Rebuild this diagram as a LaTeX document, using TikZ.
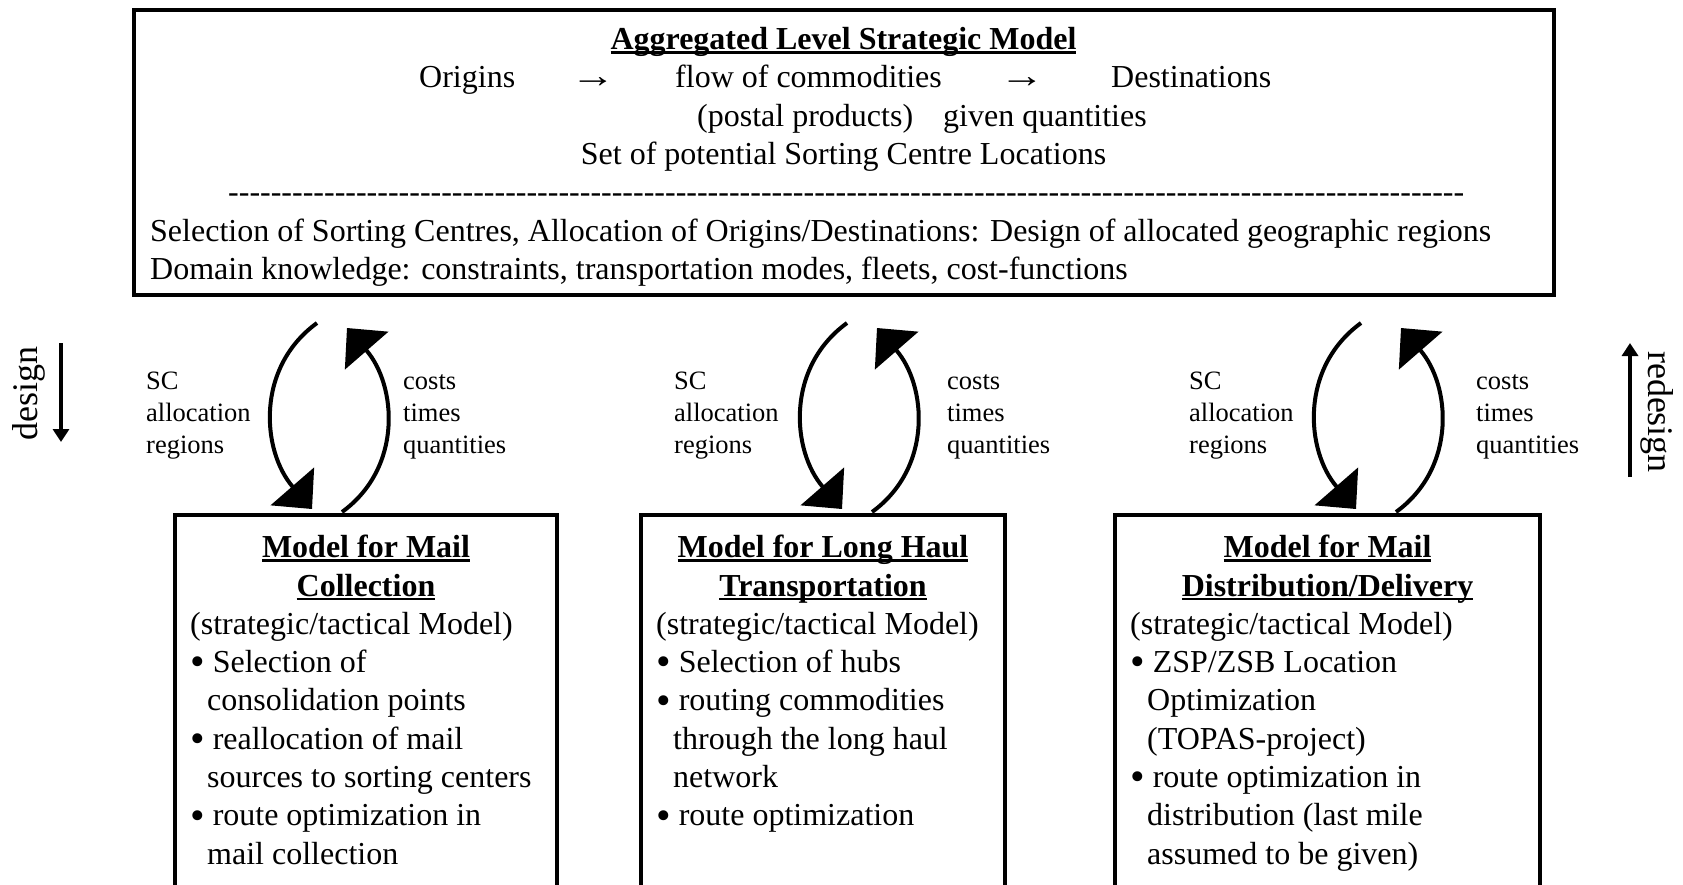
\documentclass[tikz,border=0pt]{standalone}
\usepackage{fontspec}
\usepackage{graphicx}
\setmainfont{Liberation Serif}
\usetikzlibrary{arrows.meta}

% underline drawn just below the baseline, crossing descenders
\newcommand\headline[1]{\setbox0\hbox{#1}\rlap{\rule[-4.2pt]{\wd0}{2.4pt}}\box0}
% a row of single hyphens (kerns keep them from joining into dashes)
\newcommand\hyphenrow{\foreach \k in {1,...,116}{-\kern0pt}}
% list bullet, a little heavier than the text one
\newcommand\itemdot{\raisebox{-3.3pt}{\scalebox{1.3}{\textbullet}}\ }
% wide flow arrow
\newcommand\flowarrow{\scalebox{1.4}[1.1]{→}}

\tikzset{
  frame/.style={draw, line width=4pt, inner sep=0pt, outer sep=0pt, anchor=north west},
  body/.style={inner sep=0pt, font=\fontsize{32}{38.3}\selectfont, anchor=base west},
  bodyc/.style={body, anchor=base},
  head/.style={inner sep=0pt, font=\fontsize{32}{38.3}\selectfont\bfseries, anchor=base},
  tag/.style={inner sep=0pt, font=\fontsize{26.5}{31.8}\selectfont, anchor=base west},
  side/.style={inner sep=0pt, font=\fontsize{36}{40}\selectfont},
  loop/.style={line width=4pt, -{Triangle[length=30pt,width=57pt]}},
  sidearrow/.style={line width=3.3pt, -{Triangle[length=13pt,width=16pt]}},
}

\begin{document}
\begin{tikzpicture}[x=1pt,y=1pt]
\useasboundingbox (0,0) rectangle (1683,-884);
\clip (0,0) rectangle (1683,-884);

% ---------- strategic model ----------
\node[frame, minimum width=1420pt, minimum height=285pt] (top) at (134,-10) {};
\node[head] (topT) at (843.5,-49.5) {\headline{Aggregated Level Strategic Model}};
\node[body] (orig) at (419,-87.8) {Origins};
\node[bodyc] (ar1) at (593,-87.8) {\flowarrow};
\node[body] (flow) at (675,-87.8) {flow of commodities};
\node[bodyc] (ar2) at (1022,-87.8) {\flowarrow};
\node[body] (dest) at (1111,-87.8) {Destinations};
\node[body] (post) at (697,-126.1) {(postal products)};
\node[body] (given) at (943,-126.1) {given quantities};
\node[bodyc] (set) at (843.5,-164.4) {Set of potential Sorting Centre Locations};
\node[body] (rule) at (228,-202.7) {\hyphenrow};
\node[body] (sel) at (150,-241) {Selection of Sorting Centres, Allocation of Origins/Destinations: Design of allocated geographic regions};
\node[body] (dom) at (150,-279.3) {Domain knowledge: constraints, transportation modes, fleets, cost-functions};

% ---------- mail collection ----------
\node[frame, minimum width=382pt, minimum height=420pt] (mc) at (175,-515) {};
\node[head] (mcT1) at (366,-557.5) {\headline{Model for Mail}};
\node[head] (mcT2) at (366,-596) {\headline{Collection}};
\node[body] (mc1) at (190,-634.3) {(strategic/tactical Model)};
\node[body] (mc2) at (190,-672.6) {\itemdot Selection of};
\node[body] (mc3) at (207,-710.9) {consolidation points};
\node[body] (mc4) at (190,-749.2) {\itemdot reallocation of mail};
\node[body] (mc5) at (207,-787.5) {sources to sorting centers};
\node[body] (mc6) at (190,-825.8) {\itemdot route optimization in};
\node[body] (mc7) at (207,-864.1) {mail collection};

% ---------- long haul ----------
\node[frame, minimum width=364pt, minimum height=420pt] (lh) at (641,-515) {};
\node[head] (lhT1) at (823,-557.5) {\headline{Model for Long Haul}};
\node[head] (lhT2) at (823,-596) {\headline{Transportation}};
\node[body] (lh1) at (656,-634.3) {(strategic/tactical Model)};
\node[body] (lh2) at (656,-672.6) {\itemdot Selection of hubs};
\node[body] (lh3) at (656,-710.9) {\itemdot routing commodities};
\node[body] (lh4) at (673,-749.2) {through the long haul};
\node[body] (lh5) at (673,-787.5) {network};
\node[body] (lh6) at (656,-825.8) {\itemdot route optimization};

% ---------- distribution / delivery ----------
\node[frame, minimum width=425pt, minimum height=420pt] (dd) at (1115,-515) {};
\node[head] (ddT1) at (1327.5,-557.5) {\headline{Model for Mail}};
\node[head] (ddT2) at (1327.5,-596) {\headline{Distribution/Delivery}};
\node[body] (dd1) at (1130,-634.3) {(strategic/tactical Model)};
\node[body] (dd2) at (1130,-672.6) {\itemdot ZSP/ZSB Location};
\node[body] (dd3) at (1147,-710.9) {Optimization};
\node[body] (dd4) at (1147,-749.2) {(TOPAS-project)};
\node[body] (dd5) at (1130,-787.5) {\itemdot route optimization in};
\node[body] (dd6) at (1147,-825.8) {distribution (last mile};
\node[body] (dd7) at (1147,-864.1) {assumed to be given)};

% ---------- exchange labels ----------
\node[tag] (sc1a) at (146,-389) {SC};
\node[tag] (sc1b) at (146,-421) {allocation};
\node[tag] (sc1c) at (146,-453) {regions};
\node[tag] (ct1a) at (403,-389) {costs};
\node[tag] (ct1b) at (403,-421) {times};
\node[tag] (ct1c) at (403,-453) {quantities};
\node[tag] (sc2a) at (674,-389) {SC};
\node[tag] (sc2b) at (674,-421) {allocation};
\node[tag] (sc2c) at (674,-453) {regions};
\node[tag] (ct2a) at (947,-389) {costs};
\node[tag] (ct2b) at (947,-421) {times};
\node[tag] (ct2c) at (947,-453) {quantities};
\node[tag] (sc3a) at (1189,-389) {SC};
\node[tag] (sc3b) at (1189,-421) {allocation};
\node[tag] (sc3c) at (1189,-453) {regions};
\node[tag] (ct3a) at (1476,-389) {costs};
\node[tag] (ct3b) at (1476,-421) {times};
\node[tag] (ct3c) at (1476,-453) {quantities};

% ---------- loop ends ----------
\coordinate (d1s) at (317,-323);  \coordinate (d1e) at (312,-509);
\coordinate (u1s) at (342,-512);  \coordinate (u1e) at (347,-328);
\coordinate (d2s) at (847,-323);  \coordinate (d2e) at (842,-509);
\coordinate (u2s) at (872,-512);  \coordinate (u2e) at (877,-328);
\coordinate (d3s) at (1361,-323); \coordinate (d3e) at (1356,-509);
\coordinate (u3s) at (1396,-512); \coordinate (u3e) at (1401,-328);

\foreach \i in {1,2,3}{
  \draw[loop] (d\i s) to[out=216,in=131,looseness=1.05] (d\i e);
  \draw[loop] (u\i s) to[out=36,in=311,looseness=1.05] (u\i e);
}

% ---------- design / redesign ----------
\node[side, rotate=90] (dsg) at (29,-393) {design};
\node[side, rotate=-90] (rdsg) at (1657,-412) {redesign};
\coordinate (dA) at (61,-343);   \coordinate (dB) at (61,-442);
\coordinate (rA) at (1630,-477); \coordinate (rB) at (1630,-343);
\draw[sidearrow] (dA) -- (dB);
\draw[sidearrow] (rA) -- (rB);
\end{tikzpicture}
\end{document}
